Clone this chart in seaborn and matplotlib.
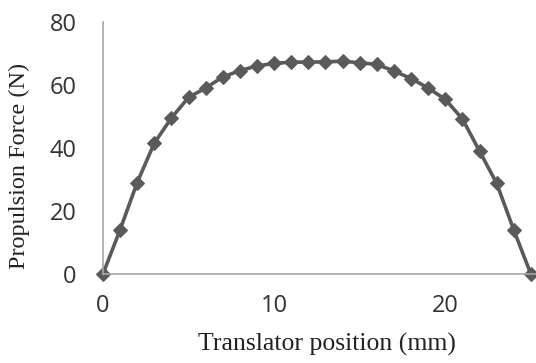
import matplotlib
matplotlib.use("Agg")
import matplotlib.pyplot as plt
import seaborn as sns
import pandas as pd

# values
position_mm = list(range(26))
force_n = [0, 14, 29, 41.5, 49.5, 56, 59, 62.5, 64.5, 66, 66.8, 67.2, 67.2,
           67.3, 67.5, 67, 66.5, 64.4, 62, 59, 55.4, 49.2, 39, 28.8, 14, 0]
x_ticks = [0, 10, 20]
y_ticks = [0, 20, 40, 60, 80]

df = pd.DataFrame({"pos": position_mm, "force": force_n})

sns.set_style("white")
fig = plt.figure(figsize=(5.36, 3.63), dpi=100)
ax = fig.add_axes([0.192, 0.245, 0.808, 0.695])

sns.lineplot(data=df, x="pos", y="force", ax=ax, color="#5a5a5a",
             linewidth=2.6, marker="D", markersize=7, markeredgecolor="#5a5a5a")

ax.set_xlim(0, 25.3)
ax.set_ylim(0, 80)
ax.set_xticks(x_ticks)
ax.set_yticks(y_ticks)
for lab in ax.get_xticklabels() + ax.get_yticklabels():
    lab.set_fontfamily("Open Sans")
    lab.set_fontsize(17)
    lab.set_color("#333333")
ax.tick_params(axis="both", length=0)
ax.tick_params(axis="x", pad=14)
ax.tick_params(axis="y", pad=19)

ax.set_xlabel("Translator position (mm)", fontfamily="Liberation Serif",
              fontsize=18.5, color="#222222")
ax.set_ylabel("Propulsion Force (N)", fontfamily="Liberation Serif",
              fontsize=17.5, color="#222222")
ax.xaxis.set_label_coords(0.517, -0.235)
ax.yaxis.set_label_coords(-0.168, 0.43)

for s in ["top", "right"]:
    ax.spines[s].set_visible(False)
for s in ["left", "bottom"]:
    ax.spines[s].set_color("#a6a6a6")
    ax.spines[s].set_linewidth(1.2)
for l in ax.lines:
    l.set_clip_on(False)

fig.savefig("out.png", dpi=100)
